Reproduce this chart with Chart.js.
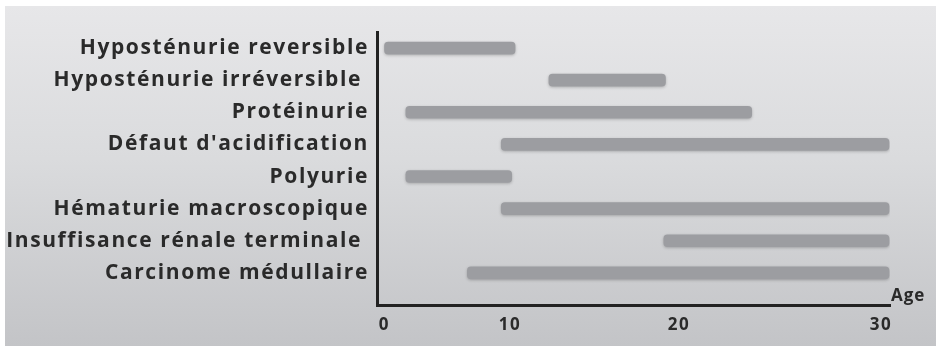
<!DOCTYPE html>
<html>
<head>
<meta charset="utf-8">
<script src="https://cdn.jsdelivr.net/npm/chart.js@4/dist/chart.umd.min.js"></script>
<style>
  html, body { margin: 0; padding: 0; background: #ffffff; }
  #wrap { position: relative; width: 936px; height: 346px; overflow: hidden; }
  #panel { position: absolute; left: 5px; top: 6px; right: 0; bottom: 0;
    background: linear-gradient(to bottom, #e7e7e9 0%, #dadbdd 45%, #c3c4c7 100%); }
  #c { position: absolute; left: 0; top: 0; }
</style>
</head>
<body>
<div id="wrap">
  <div id="panel"></div>
  <canvas id="c" width="936" height="346"></canvas>
</div>
<script>
// ---- data ----
const categories = [
  "Hyposténurie reversible",
  "Hyposténurie irréversible ",
  "Protéinurie",
  "Défaut d'acidification",
  "Polyurie",
  "Hématurie macroscopique",
  "Insuffisance rénale terminale ",
  "Carcinome médullaire"
];
const startAges = [0, 12.3, 1.7, 9.3, 1.7, 9.3, 19.1, 6.6];
const endAges   = [10.3, 19.2, 23.6, 30.4, 10.1, 30.4, 30.4, 30.4];
const ageTicks  = [0, 10, 20, 30];
const axisTitle = "Age";

// The original age axis is drawn unevenly: knots map age -> fraction of axis width.
const AGE_KNOTS = [[-0.56, 0], [0, 0.0146], [10, 0.2593], [20, 0.5887], [30, 0.9825], [30.45, 1]];
function ageToFrac(v) {
  const k = AGE_KNOTS;
  let i = 0;
  if (v <= k[0][0]) i = 0;
  else if (v >= k[k.length - 1][0]) i = k.length - 2;
  else { while (i < k.length - 2 && v > k[i + 1][0]) i++; }
  const [v0, f0] = k[i], [v1, f1] = k[i + 1];
  return f0 + (v - v0) * (f1 - f0) / (v1 - v0);
}
function fracToAge(f) {
  const k = AGE_KNOTS;
  let i = 0;
  while (i < k.length - 2 && f > k[i + 1][1]) i++;
  const [v0, f0] = k[i], [v1, f1] = k[i + 1];
  return v0 + (f - f0) * (v1 - v0) / (f1 - f0);
}
class PiecewiseScale extends Chart.LinearScale {
  getPixelForValue(value) {
    if (value === null || value === undefined || isNaN(value)) return NaN;
    return this.getPixelForDecimal(ageToFrac(value));
  }
  getValueForPixel(pixel) {
    return fracToAge(this.getDecimalForPixel(pixel));
  }
}
PiecewiseScale.id = 'piecewise';
Chart.register(PiecewiseScale);

const TEXT = '#2a2a2a';
const FONT = "'Open Sans', 'DejaVu Sans', sans-serif";
const SPACING = '1.6px';

const letterSpacing = {
  id: 'letterSpacing',
  beforeLayout(chart) { chart.ctx.letterSpacing = SPACING; },
  beforeDraw(chart) { chart.ctx.letterSpacing = SPACING; }
};
const ageLabel = {
  id: 'ageLabel',
  afterDraw(chart) {
    const xs = chart.scales.x;
    const ctx = chart.ctx;
    ctx.save();
    ctx.letterSpacing = '1px';
    ctx.font = "bold 17px " + FONT;
    ctx.fillStyle = TEXT;
    ctx.textAlign = 'left';
    ctx.textBaseline = 'middle';
    ctx.fillText(axisTitle, xs.right + 1, xs.top - 9);
    ctx.restore();
  }
};
const barShadow = {
  id: 'barShadow',
  beforeDatasetsDraw(chart) {
    const ctx = chart.ctx;
    ctx.save();
    ctx.shadowColor = 'rgba(0,0,0,0.22)';
    ctx.shadowBlur = 3;
    ctx.shadowOffsetY = 1;
  },
  afterDatasetsDraw(chart) { chart.ctx.restore(); }
};

new Chart(document.getElementById('c'), {
  type: 'bar',
  data: {
    datasets: [{
      data: categories.map((c, i) => ({ x: [startAges[i], endAges[i]], y: i })),
      backgroundColor: '#9c9da1',
      borderWidth: 0,
      borderSkipped: false,
      borderRadius: 4,
      barThickness: 12
    }]
  },
  options: {
    indexAxis: 'y',
    responsive: false,
    animation: false,
    events: [],
    layout: { padding: { top: 32, right: 46, left: 0, bottom: 0 } },
    plugins: { legend: { display: false }, tooltip: { enabled: false } },
    scales: {
      x: {
        type: 'piecewise',
        position: 'bottom',
        offset: false,
        min: -0.56, max: 30.45,
        afterBuildTicks: (s) => { s.ticks = ageTicks.map(v => ({ value: v })); },
        afterFit: (s) => { s.height = 41; },
        grid: { display: false, drawTicks: false },
        border: { display: true, color: '#222222', width: 3 },
        ticks: { color: TEXT, font: { family: FONT, size: 17, weight: 'bold' }, padding: 10,
                 autoSkip: false, maxRotation: 0, callback: (v) => String(v) }
      },
      y: {
        type: 'linear',
        reverse: true,
        offset: false,
        min: -0.5, max: 8,
        afterBuildTicks: (s) => { s.ticks = categories.map((c, i) => ({ value: i })); },
        afterFit: (s) => { s.width = 377; },
        grid: { display: false, drawTicks: false },
        border: { display: true, color: '#222222', width: 3 },
        ticks: { color: TEXT, font: { family: FONT, size: 21, weight: 'bold' }, padding: 8,
                 autoSkip: false, callback: (v) => categories[v] }
      }
    }
  },
  plugins: [letterSpacing, barShadow, ageLabel]
});
</script>
</body>
</html>
